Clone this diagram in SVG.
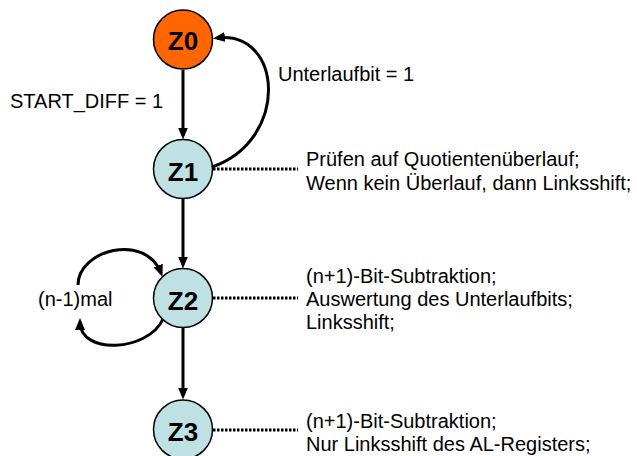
<svg xmlns="http://www.w3.org/2000/svg" width="637" height="456" viewBox="0 0 637 456">
  <style>
    .state { stroke: #000; stroke-width: 1.5; }
    .start { fill: #FF6600; }
    .normal { fill: #BFE1E4; }
    .sname { font-family: "Liberation Sans", Arial, sans-serif; font-weight: bold; font-size: 26px; text-anchor: middle; fill: #000; }
    .lbl { font-family: "Liberation Sans", Arial, sans-serif; font-size: 20px; fill: #000; }
    .edge { fill: none; stroke: #000; stroke-width: 3; marker-end: url(#arrow); }
    .note { fill: none; stroke: #000; stroke-width: 3; stroke-dasharray: 2.5 1.5; }
  </style>
  <defs>
    <marker id="arrow" markerUnits="userSpaceOnUse" markerWidth="12" markerHeight="10" refX="8" refY="5" orient="auto">
      <path d="M0,0 L12,5 L0,10 z" fill="#000"/>
    </marker>
  </defs>

  <rect width="637" height="456" fill="#fff"/>

  <!-- transitions and annotation leaders -->
  <g id="connectors">
    <path class="edge" d="M183,70 L183,135.5"/>
    <path class="edge" d="M212,167 C290,140 283,30 217,38"/>
    <path class="edge" d="M183,199 L183,264.5"/>
    <path class="edge" d="M78,285 C78,250 145,232 161,273"/>
    <path class="edge" d="M163,319 C148,352 80,355 80,322"/>
    <path class="edge" d="M183,328 L183,395.5"/>
    <line class="note" x1="213" y1="169" x2="298" y2="169"/>
    <line class="note" x1="213" y1="298" x2="298" y2="298"/>
    <line class="note" x1="213" y1="430" x2="298" y2="430"/>
    <text class="lbl" x="10" y="108">START_DIFF = 1</text>
    <text class="lbl" x="278" y="81">Unterlaufbit = 1</text>
    <text class="lbl" x="38" y="306">(n-1)mal</text>
  </g>

  <g id="Z0">
    <circle class="state start" cx="183" cy="39.5" r="29.5"/>
    <text class="sname" x="183" y="50">Z0</text>
  </g>

  <g id="Z1">
    <circle class="state normal" cx="183" cy="169" r="29.5"/>
    <text class="sname" x="183" y="181">Z1</text>
    <text class="lbl" x="306" y="166">Prüfen auf Quotientenüberlauf;</text>
    <text class="lbl" x="306" y="190">Wenn kein Überlauf, dann Linksshift;</text>
  </g>

  <g id="Z2">
    <circle class="state normal" cx="183" cy="298" r="29.5"/>
    <text class="sname" x="183" y="310">Z2</text>
    <text class="lbl" x="306" y="283">(n+1)-Bit-Subtraktion;</text>
    <text class="lbl" x="306" y="306">Auswertung des Unterlaufbits;</text>
    <text class="lbl" x="306" y="329">Linksshift;</text>
  </g>

  <g id="Z3">
    <circle class="state normal" cx="183" cy="429.5" r="29.5"/>
    <text class="sname" x="183" y="441">Z3</text>
    <text class="lbl" x="306" y="428">(n+1)-Bit-Subtraktion;</text>
    <text class="lbl" x="306" y="451">Nur Linksshift des AL-Registers;</text>
  </g>
</svg>
